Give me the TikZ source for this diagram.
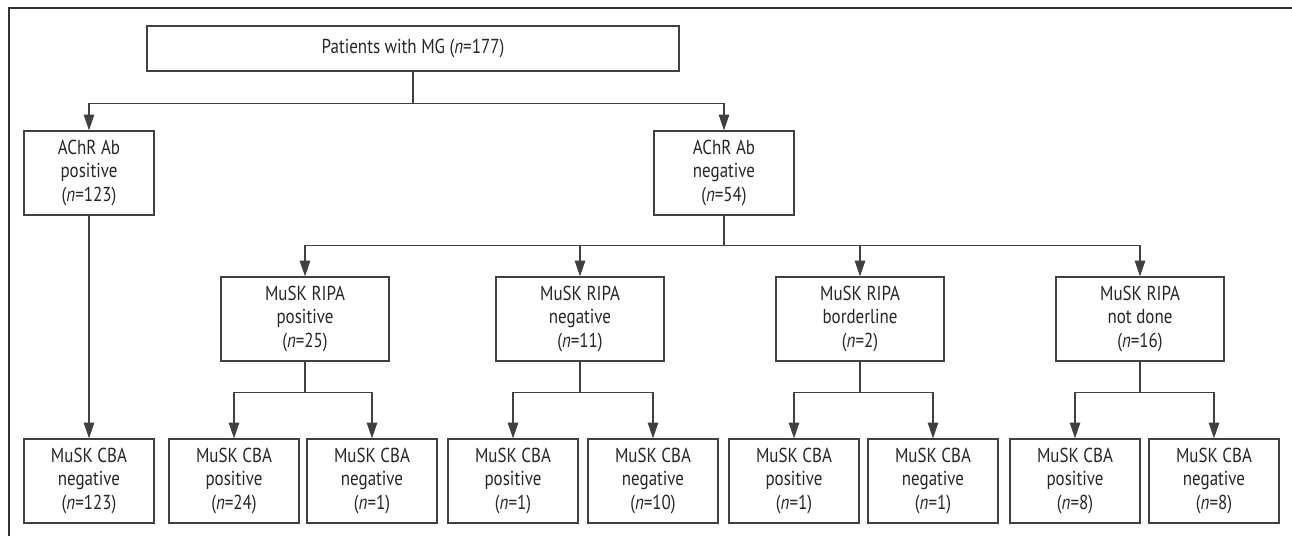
\documentclass[tikz,border=0pt]{standalone}
\usepackage{fontspec}
\setmainfont{PT Sans}[FakeStretch=0.84]
\usepackage{tikz}
\usetikzlibrary{arrows.meta}

\begin{document}
\begin{tikzpicture}[x=0.02cm, y=-0.02cm,
    box/.style={draw=black!75, line width=0.7pt, align=center, inner sep=0pt,
        minimum height=1.68cm, text=black!85,
        font=\fontsize{11.5}{13.6}\selectfont},
    link/.style={draw=black!75, line width=0.6pt},
    arr/.style={link, -{Triangle[length=9pt, width=6pt]}}]
    \useasboundingbox (0,0) rectangle (1292,536);

    \draw[black!80, line width=1pt] (1292,8) -- (9,8) -- (9,536);

    \node[box, minimum width=10.64cm, minimum height=0.9cm] (mg) at (413,48.5)
        {Patients with MG (\textit{n}=177)};

    \node[box, minimum width=2.6cm] (achrpos) at (89,173)
        {AChR Ab\\positive\\(\textit{n}=123)};
    \node[box, minimum width=2.8cm] (achrneg) at (724,173)
        {AChR Ab\\negative\\(\textit{n}=54)};

    \node[box, minimum width=3.36cm] (ripapos) at (305,319)
        {MuSK RIPA\\positive\\(\textit{n}=25)};
    \node[box, minimum width=3.36cm] (ripaneg) at (580,319)
        {MuSK RIPA\\negative\\(\textit{n}=11)};
    \node[box, minimum width=3.36cm] (ripabord) at (860,319)
        {MuSK RIPA\\borderline\\(\textit{n}=2)};
    \node[box, minimum width=3.36cm] (ripand) at (1140,319)
        {MuSK RIPA\\not done\\(\textit{n}=16)};

    \node[box, minimum width=2.6cm] (cbaA) at (89,481)
        {MuSK CBA\\negative\\(\textit{n}=123)};
    \node[box, minimum width=2.6cm] (cbaB) at (234,481)
        {MuSK CBA\\positive\\(\textit{n}=24)};
    \node[box, minimum width=2.6cm] (cbaC) at (372,481)
        {MuSK CBA\\negative\\(\textit{n}=1)};
    \node[box, minimum width=2.6cm] (cbaD) at (513,481)
        {MuSK CBA\\positive\\(\textit{n}=1)};
    \node[box, minimum width=2.6cm] (cbaE) at (653,481)
        {MuSK CBA\\negative\\(\textit{n}=10)};
    \node[box, minimum width=2.6cm] (cbaF) at (794,481)
        {MuSK CBA\\positive\\(\textit{n}=1)};
    \node[box, minimum width=2.6cm] (cbaG) at (933,481)
        {MuSK CBA\\negative\\(\textit{n}=1)};
    \node[box, minimum width=2.6cm] (cbaH) at (1075,481)
        {MuSK CBA\\positive\\(\textit{n}=8)};
    \node[box, minimum width=2.6cm] (cbaI) at (1214,481)
        {MuSK CBA\\negative\\(\textit{n}=8)};

    % first split
    \draw[link] (mg.south) -- ++(0,32) coordinate (s1);
    \draw[arr] (s1) -| (achrpos.north);
    \draw[arr] (s1) -| (achrneg.north);
    \draw[arr] (achrpos.south) -- (cbaA.north);

    % RIPA split
    \draw[link] (achrneg.south) -- ++(0,30) coordinate (s2);
    \draw[arr] (s2) -| (ripapos.north);
    \draw[arr] (s2) -| (ripaneg.north);
    \draw[arr] (s2) -| (ripabord.north);
    \draw[arr] (s2) -| (ripand.north);

    % CBA splits
    \draw[link] (ripapos.south) -- ++(0,31) coordinate (s3);
    \draw[arr] (s3) -| (cbaB.north);
    \draw[arr] (s3) -| (cbaC.north);
    \draw[link] (ripaneg.south) -- ++(0,31) coordinate (s4);
    \draw[arr] (s4) -| (cbaD.north);
    \draw[arr] (s4) -| (cbaE.north);
    \draw[link] (ripabord.south) -- ++(0,31) coordinate (s5);
    \draw[arr] (s5) -| (cbaF.north);
    \draw[arr] (s5) -| (cbaG.north);
    \draw[link] (ripand.south) -- ++(0,31) coordinate (s6);
    \draw[arr] (s6) -| (cbaH.north);
    \draw[arr] (s6) -| (cbaI.north);
\end{tikzpicture}
\end{document}
